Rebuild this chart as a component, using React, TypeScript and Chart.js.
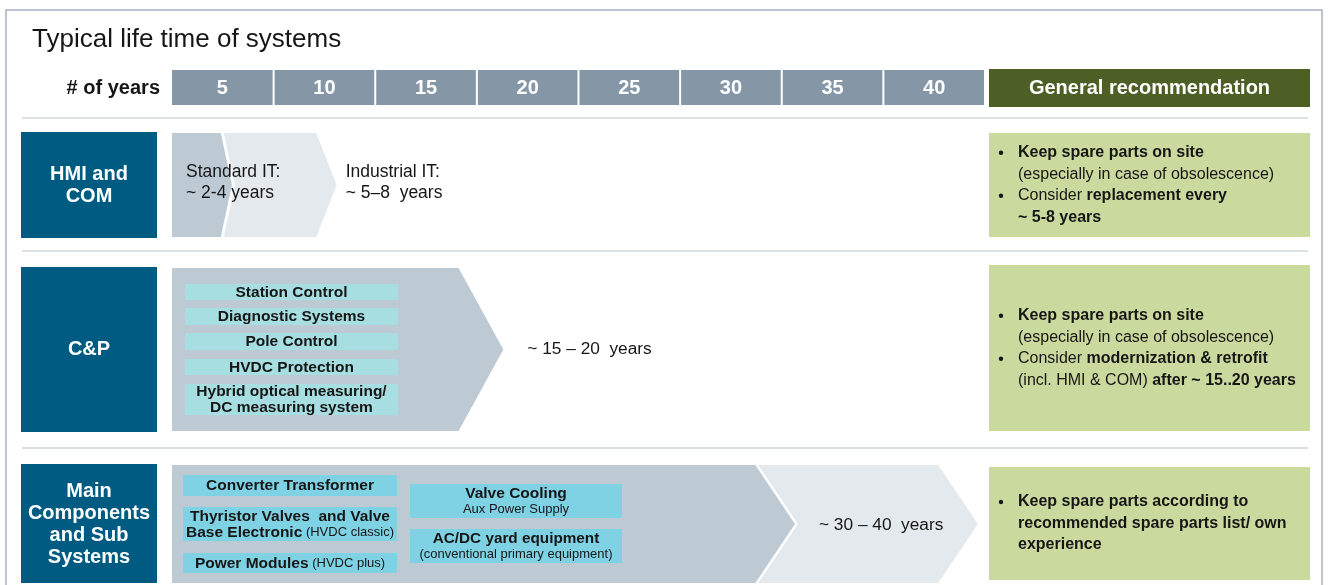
import React, { useEffect, useRef } from "react";
import { Chart, registerables } from "chart.js";

Chart.register(...registerables);

const FONT = '"Liberation Sans", Arial, Helvetica, sans-serif';

// ---------------- data ----------------
const chartTitle = "Typical life time of systems";
const axisTitle = "# of years";
const yearMin = 0;
const yearMax = 40;
const yearTicks = [5, 10, 15, 20, 25, 30, 35, 40];
const recommendationHeader = "General recommendation";
const rowLabels = [["HMI and", "COM"], ["C&P"], ["Main", "Components", "and Sub", "Systems"]];

// life-time arrows, in years: row, end of straight body, end of tip, shade
const arrowRows = [0, 0, 1, 2, 2];
const arrowBodyEnd = [7.1, 2.4, 14.1, 37.7, 28.7];
const arrowTipEnd = [8.1, 2.95, 16.3, 39.65, 30.65];
const arrowShade = ["light", "dark", "dark", "light", "dark"];

// lifetime texts
const hmiStandardText = ["Standard IT:", "~ 2-4 years"];
const hmiIndustrialText = ["Industrial IT:", "~ 5\u20138  years"];
const cpLifeText = "~ 15 \u2013 20  years";
const mainLifeText = "~ 30 \u2013 40  years";

// component labels
const cpComponents = [
  ["Station Control"],
  ["Diagnostic Systems"],
  ["Pole Control"],
  ["HVDC Protection"],
  ["Hybrid optical measuring/", "DC measuring system"],
];
type Run = [string, boolean, number];
const mainLeftComponents: Run[][][] = [
  [[["Converter Transformer", true, 15.5]]],
  [
    [["Thyristor Valves  and Valve", true, 15.5]],
    [["Base Electronic", true, 15.5], [" (HVDC classic)", false, 13]],
  ],
  [[["Power Modules", true, 15.5], [" (HVDC plus)", false, 13]]],
];
const mainRightComponents: Run[][][] = [
  [[["Valve Cooling", true, 15.5]], [["Aux Power Supply", false, 13]]],
  [[["AC/DC yard equipment", true, 15.3]], [["(conventional primary equipment)", false, 13]]],
];

// recommendations: [bullet, runs]
type RecLine = [boolean, Run[]];
const recHmi: RecLine[] = [
  [true, [["Keep spare parts on site", true, 16]]],
  [false, [["(especially in case of obsolescence)", false, 16]]],
  [true, [["Consider ", false, 16], ["replacement every", true, 16]]],
  [false, [["~ 5-8 years", true, 16]]],
];
const recCp: RecLine[] = [
  [true, [["Keep spare parts on site", true, 16]]],
  [false, [["(especially in case of obsolescence)", false, 16]]],
  [true, [["Consider ", false, 16], ["modernization & retrofit", true, 16]]],
  [false, [["(incl. HMI & COM) ", false, 16], ["after ~ 15..20 years", true, 16]]],
];
const recMain: RecLine[] = [
  [true, [["Keep spare parts according to", true, 16]]],
  [false, [["recommended spare parts list/ own", true, 16]]],
  [false, [["experience", true, 16]]],
];
const recommendations = [recHmi, recCp, recMain];

// ---------------- layout / style ----------------
const W = 1330;
const H = 585;
const rowBand = [
  { top: 133, bottom: 237 },
  { top: 268, bottom: 431 },
  { top: 465, bottom: 583 },
];
const blueBand = [
  { top: 132, bottom: 238 },
  { top: 267, bottom: 432 },
  { top: 464, bottom: 583 },
];
const greenBand = [
  { top: 133, bottom: 237 },
  { top: 265, bottom: 431 },
  { top: 467, bottom: 580 },
];
const separators = [118, 251, 448];

const C = {
  frame: "#A3B2C3",
  header: "#8597A7",
  recHeader: "#4E5F25",
  sep: "#DCE1E6",
  blue: "#005B82",
  dark: "#BDCAD3",
  light: "#E4E9ED",
  cpLabel: "#A7DEE1",
  mainLabel: "#7FD2E4",
  green: "#CADA9E",
  text: "#161616",
};

function font(size: number, bold: boolean) {
  return `${bold ? "bold " : ""}${size}px ${FONT}`;
}

function runsWidth(ctx: CanvasRenderingContext2D, runs: Run[]) {
  let w = 0;
  for (const [t, b, s] of runs) {
    ctx.font = font(s, b);
    w += ctx.measureText(t).width;
  }
  return w;
}

function drawRuns(ctx: CanvasRenderingContext2D, runs: Run[], x: number, y: number, align: "left" | "center", color: string) {
  let cx = align === "center" ? x - runsWidth(ctx, runs) / 2 : x;
  ctx.fillStyle = color;
  ctx.textAlign = "left";
  ctx.textBaseline = "middle";
  for (const [t, b, s] of runs) {
    ctx.font = font(s, b);
    ctx.fillText(t, cx, y);
    cx += ctx.measureText(t).width;
  }
}

function chevronPath(ctx: CanvasRenderingContext2D, x0: number, x1: number, xt: number, top: number, bottom: number) {
  const mid = (top + bottom) / 2;
  ctx.beginPath();
  ctx.moveTo(x0, top);
  ctx.lineTo(x1, top);
  ctx.lineTo(xt, mid);
  ctx.lineTo(x1, bottom);
  ctx.lineTo(x0, bottom);
  ctx.closePath();
}

const drawPlugin = {
  id: "lifetimeInfographic",
  afterDraw(chart: any) {
    const ctx: CanvasRenderingContext2D = chart.ctx;
    const xs = chart.scales.x;
    const px = (v: number) => xs.getPixelForValue(v);
    ctx.save();

    // frame
    ctx.strokeStyle = C.frame;
    ctx.lineWidth = 1.5;
    ctx.beginPath();
    ctx.moveTo(6, H + 2);
    ctx.lineTo(6, 10);
    ctx.lineTo(1322, 10);
    ctx.lineTo(1322, H + 2);
    ctx.stroke();

    // title
    ctx.fillStyle = C.text;
    ctx.font = font(26, false);
    ctx.textAlign = "left";
    ctx.textBaseline = "middle";
    ctx.fillText(chartTitle, 32, 40);

    // axis title
    ctx.font = font(20, true);
    ctx.textAlign = "right";
    ctx.fillText(axisTitle, 160, 88);

    // header cells
    for (let i = 0; i < yearTicks.length; i++) {
      const from = i === 0 ? yearMin : yearTicks[i - 1];
      const x0 = px(from) + (i === 0 ? 0 : 1);
      const x1 = px(yearTicks[i]) - 1;
      ctx.fillStyle = C.header;
      ctx.fillRect(x0, 70, x1 - x0, 35);
      ctx.fillStyle = "#FFFFFF";
      ctx.font = font(20, true);
      ctx.textAlign = "center";
      ctx.fillText(String(yearTicks[i]), (x0 + x1) / 2, 88);
    }
    const recX0 = px(yearMax) + 4;
    const recX1 = 1310;
    ctx.fillStyle = C.recHeader;
    ctx.fillRect(recX0, 69, recX1 - recX0, 38);
    ctx.fillStyle = "#FFFFFF";
    ctx.font = font(20, true);
    ctx.textAlign = "center";
    ctx.fillText(recommendationHeader, (recX0 + recX1) / 2, 88);

    // separators
    ctx.strokeStyle = C.sep;
    ctx.lineWidth = 2;
    for (const y of separators) {
      ctx.beginPath();
      ctx.moveTo(22, y);
      ctx.lineTo(1308, y);
      ctx.stroke();
    }

    // row label boxes
    rowLabels.forEach((lines, r) => {
      const b = blueBand[r];
      ctx.fillStyle = C.blue;
      ctx.fillRect(21, b.top, 136, b.bottom - b.top);
      ctx.fillStyle = "#FFFFFF";
      ctx.font = font(20, true);
      ctx.textAlign = "center";
      ctx.textBaseline = "middle";
      const mid = r === 2 ? 524 : (b.top + b.bottom) / 2;
      const step = 22;
      lines.forEach((t, i) => {
        ctx.fillText(t, 89, mid + (i - (lines.length - 1) / 2) * step);
      });
    });

    // arrows
    for (let i = 0; i < arrowRows.length; i++) {
      const band = rowBand[arrowRows[i]];
      const x0 = px(yearMin);
      const x1 = px(arrowBodyEnd[i]);
      const xt = px(arrowTipEnd[i]);
      if (arrowShade[i] === "dark") {
        ctx.fillStyle = "#FFFFFF";
        chevronPath(ctx, x0, x1 + 3, xt + 3, band.top, band.bottom);
        ctx.fill();
      }
      ctx.fillStyle = arrowShade[i] === "dark" ? C.dark : C.light;
      chevronPath(ctx, x0, x1, xt, band.top, band.bottom);
      ctx.fill();
    }

    // HMI lifetime texts
    const hmiMid = (rowBand[0].top + rowBand[0].bottom) / 2;
    ctx.fillStyle = C.text;
    ctx.font = font(17.5, false);
    ctx.textAlign = "left";
    ctx.textBaseline = "middle";
    hmiStandardText.forEach((t, i) => ctx.fillText(t, px(yearMin) + 14, hmiMid - 13 + i * 21));
    hmiIndustrialText.forEach((t, i) => ctx.fillText(t, px(arrowTipEnd[0]) + 9, hmiMid - 13 + i * 21));

    // C&P
    ctx.font = font(17.3, false);
    ctx.fillText(cpLifeText, px(arrowTipEnd[2]) + 24, (rowBand[1].top + rowBand[1].bottom) / 2);
    const cpBoxes = [
      [284, 300],
      [308, 325],
      [333, 350],
      [359, 375],
      [384, 415],
    ];
    const cpX0 = px(yearMin) + 13;
    const cpX1 = cpX0 + 213;
    cpComponents.forEach((lines, i) => {
      const [t, b] = cpBoxes[i];
      ctx.fillStyle = C.cpLabel;
      ctx.fillRect(cpX0, t, cpX1 - cpX0, b - t);
      const mid = (t + b) / 2;
      lines.forEach((ln, j) => {
        drawRuns(ctx, [[ln, true, 15.5]], (cpX0 + cpX1) / 2, mid + (j - (lines.length - 1) / 2) * 16 + 0.5, "center", C.text);
      });
    });

    // Main components
    ctx.fillStyle = C.text;
    ctx.font = font(17.3, false);
    ctx.textAlign = "left";
    ctx.fillText(mainLifeText, px(arrowTipEnd[4]) + 24, (rowBand[2].top + rowBand[2].bottom) / 2 + 1);
    const mlBoxes = [
      [475, 496],
      [507, 541],
      [553, 573],
    ];
    const mlX0 = px(yearMin) + 11;
    const mlX1 = mlX0 + 214;
    mainLeftComponents.forEach((lines, i) => {
      const [t, b] = mlBoxes[i];
      ctx.fillStyle = C.mainLabel;
      ctx.fillRect(mlX0, t, mlX1 - mlX0, b - t);
      const mid = (t + b) / 2;
      lines.forEach((runs, j) => {
        drawRuns(ctx, runs, (mlX0 + mlX1) / 2, mid + (j - (lines.length - 1) / 2) * 16 + 0.5, "center", C.text);
      });
    });
    const mrBoxes = [
      [484, 518],
      [529, 563],
    ];
    const mrX0 = px(yearMin) + 238;
    const mrX1 = mrX0 + 212;
    mainRightComponents.forEach((lines, i) => {
      const [t, b] = mrBoxes[i];
      ctx.fillStyle = C.mainLabel;
      ctx.fillRect(mrX0, t, mrX1 - mrX0, b - t);
      const mid = (t + b) / 2;
      lines.forEach((runs, j) => {
        drawRuns(ctx, runs, (mrX0 + mrX1) / 2, mid + (j - (lines.length - 1) / 2) * 16 + 0.5, "center", C.text);
      });
    });

    // recommendations
    recommendations.forEach((lines, r) => {
      const g = greenBand[r];
      ctx.fillStyle = C.green;
      ctx.fillRect(recX0, g.top, recX1 - recX0, g.bottom - g.top);
      const mid = (g.top + g.bottom) / 2;
      const step = 21.5;
      lines.forEach(([bullet, runs], j) => {
        const y = mid + (j - (lines.length - 1) / 2) * step;
        if (bullet) {
          ctx.fillStyle = C.text;
          ctx.beginPath();
          ctx.arc(1001, y, 2.2, 0, Math.PI * 2);
          ctx.fill();
        }
        drawRuns(ctx, runs, 1018, y, "left", C.text);
      });
    });

    ctx.restore();
  },
};

export default function App() {
  const ref = useRef<HTMLCanvasElement | null>(null);
  useEffect(() => {
    document.body.style.margin = "0";
    const canvas = ref.current;
    if (!canvas) return;
    const chart = new Chart(canvas, {
      type: "bar",
      data: { labels: ["life time"], datasets: [{ data: [] as number[] }] },
      options: {
        indexAxis: "y",
        animation: false,
        responsive: false,
        maintainAspectRatio: false,
        devicePixelRatio: 1,
        layout: { padding: { left: 172, right: W - 985, top: 0, bottom: 0 } },
        scales: {
          x: { type: "linear", min: yearMin, max: yearMax, display: false },
          y: { display: false },
        },
        plugins: { legend: { display: false }, tooltip: { enabled: false } },
      },
      plugins: [drawPlugin],
    } as any);
    return () => chart.destroy();
  }, []);
  return (
    <div style={{ width: W, height: H, background: "#FFFFFF" }}>
      <canvas ref={ref} width={W} height={H} style={{ display: "block" }} />
    </div>
  );
}
